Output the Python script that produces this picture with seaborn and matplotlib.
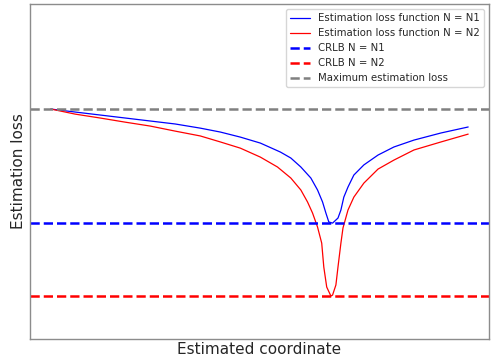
import matplotlib
matplotlib.use("Agg")
import matplotlib.pyplot as plt
import numpy as np
import pandas as pd
import seaborn as sns

# estimated coordinate (normalised) and estimation loss
x_n1 = [0.000, 0.058, 0.118, 0.178, 0.238, 0.298, 0.358, 0.406, 0.454, 0.502,
        0.550, 0.575, 0.599, 0.623, 0.639, 0.651, 0.659, 0.666, 0.675, 0.688,
        0.695, 0.702, 0.712, 0.726, 0.750, 0.784, 0.822, 0.870, 0.935, 1.000]
loss_n1 = [1.000, 0.987, 0.974, 0.961, 0.948, 0.935, 0.917, 0.900, 0.878, 0.852,
           0.813, 0.787, 0.748, 0.700, 0.648, 0.596, 0.548, 0.509, 0.504, 0.526,
           0.561, 0.617, 0.661, 0.713, 0.757, 0.800, 0.835, 0.865, 0.896, 0.922]

x_n2 = [0.000, 0.058, 0.118, 0.178, 0.238, 0.298, 0.358, 0.406, 0.454, 0.502,
        0.543, 0.575, 0.599, 0.615, 0.627, 0.639, 0.649, 0.654, 0.661, 0.671,
        0.675, 0.683, 0.688, 0.695, 0.700, 0.712, 0.726, 0.750, 0.784, 0.822,
        0.870, 0.935, 1.000]
loss_n2 = [1.000, 0.978, 0.961, 0.943, 0.926, 0.904, 0.883, 0.857, 0.830, 0.791,
           0.748, 0.700, 0.648, 0.596, 0.548, 0.487, 0.417, 0.313, 0.226, 0.187,
           0.191, 0.235, 0.313, 0.417, 0.483, 0.561, 0.617, 0.678, 0.739, 0.778,
           0.822, 0.857, 0.891]

crlb_n1 = 0.504
crlb_n2 = 0.187
max_loss = 1.0

sns.set_style("white")
fig = plt.figure(figsize=(4.92, 3.58), dpi=100)
ax = fig.add_axes([0.061, 0.053, 0.933, 0.936])

sns.lineplot(x=x_n1, y=loss_n1, color="blue", lw=0.9, ax=ax,
             label="Estimation loss function N = N1")
sns.lineplot(x=x_n2, y=loss_n2, color="red", lw=0.9, ax=ax,
             label="Estimation loss function N = N2")
ax.axhline(crlb_n1, color="blue", ls="--", lw=1.8, label="CRLB N = N1")
ax.axhline(crlb_n2, color="red", ls="--", lw=1.8, label="CRLB N = N2")
ax.axhline(max_loss, color="gray", ls="--", lw=1.8, label="Maximum estimation loss")

ax.set_xlim(-0.05, 1.05)
ax.set_ylim(0, 1.457)
ax.set_xticks([])
ax.set_yticks([])
for s in ax.spines.values():
    s.set_color("#8c8c8c")
    s.set_linewidth(1)
ax.set_xlabel("Estimated coordinate", fontsize=11, labelpad=2)
ax.set_ylabel("Estimation loss", fontsize=11, labelpad=3)
ax.legend(loc="upper right", fontsize=7.3, frameon=True)

fig.savefig("out.png", dpi=100)
